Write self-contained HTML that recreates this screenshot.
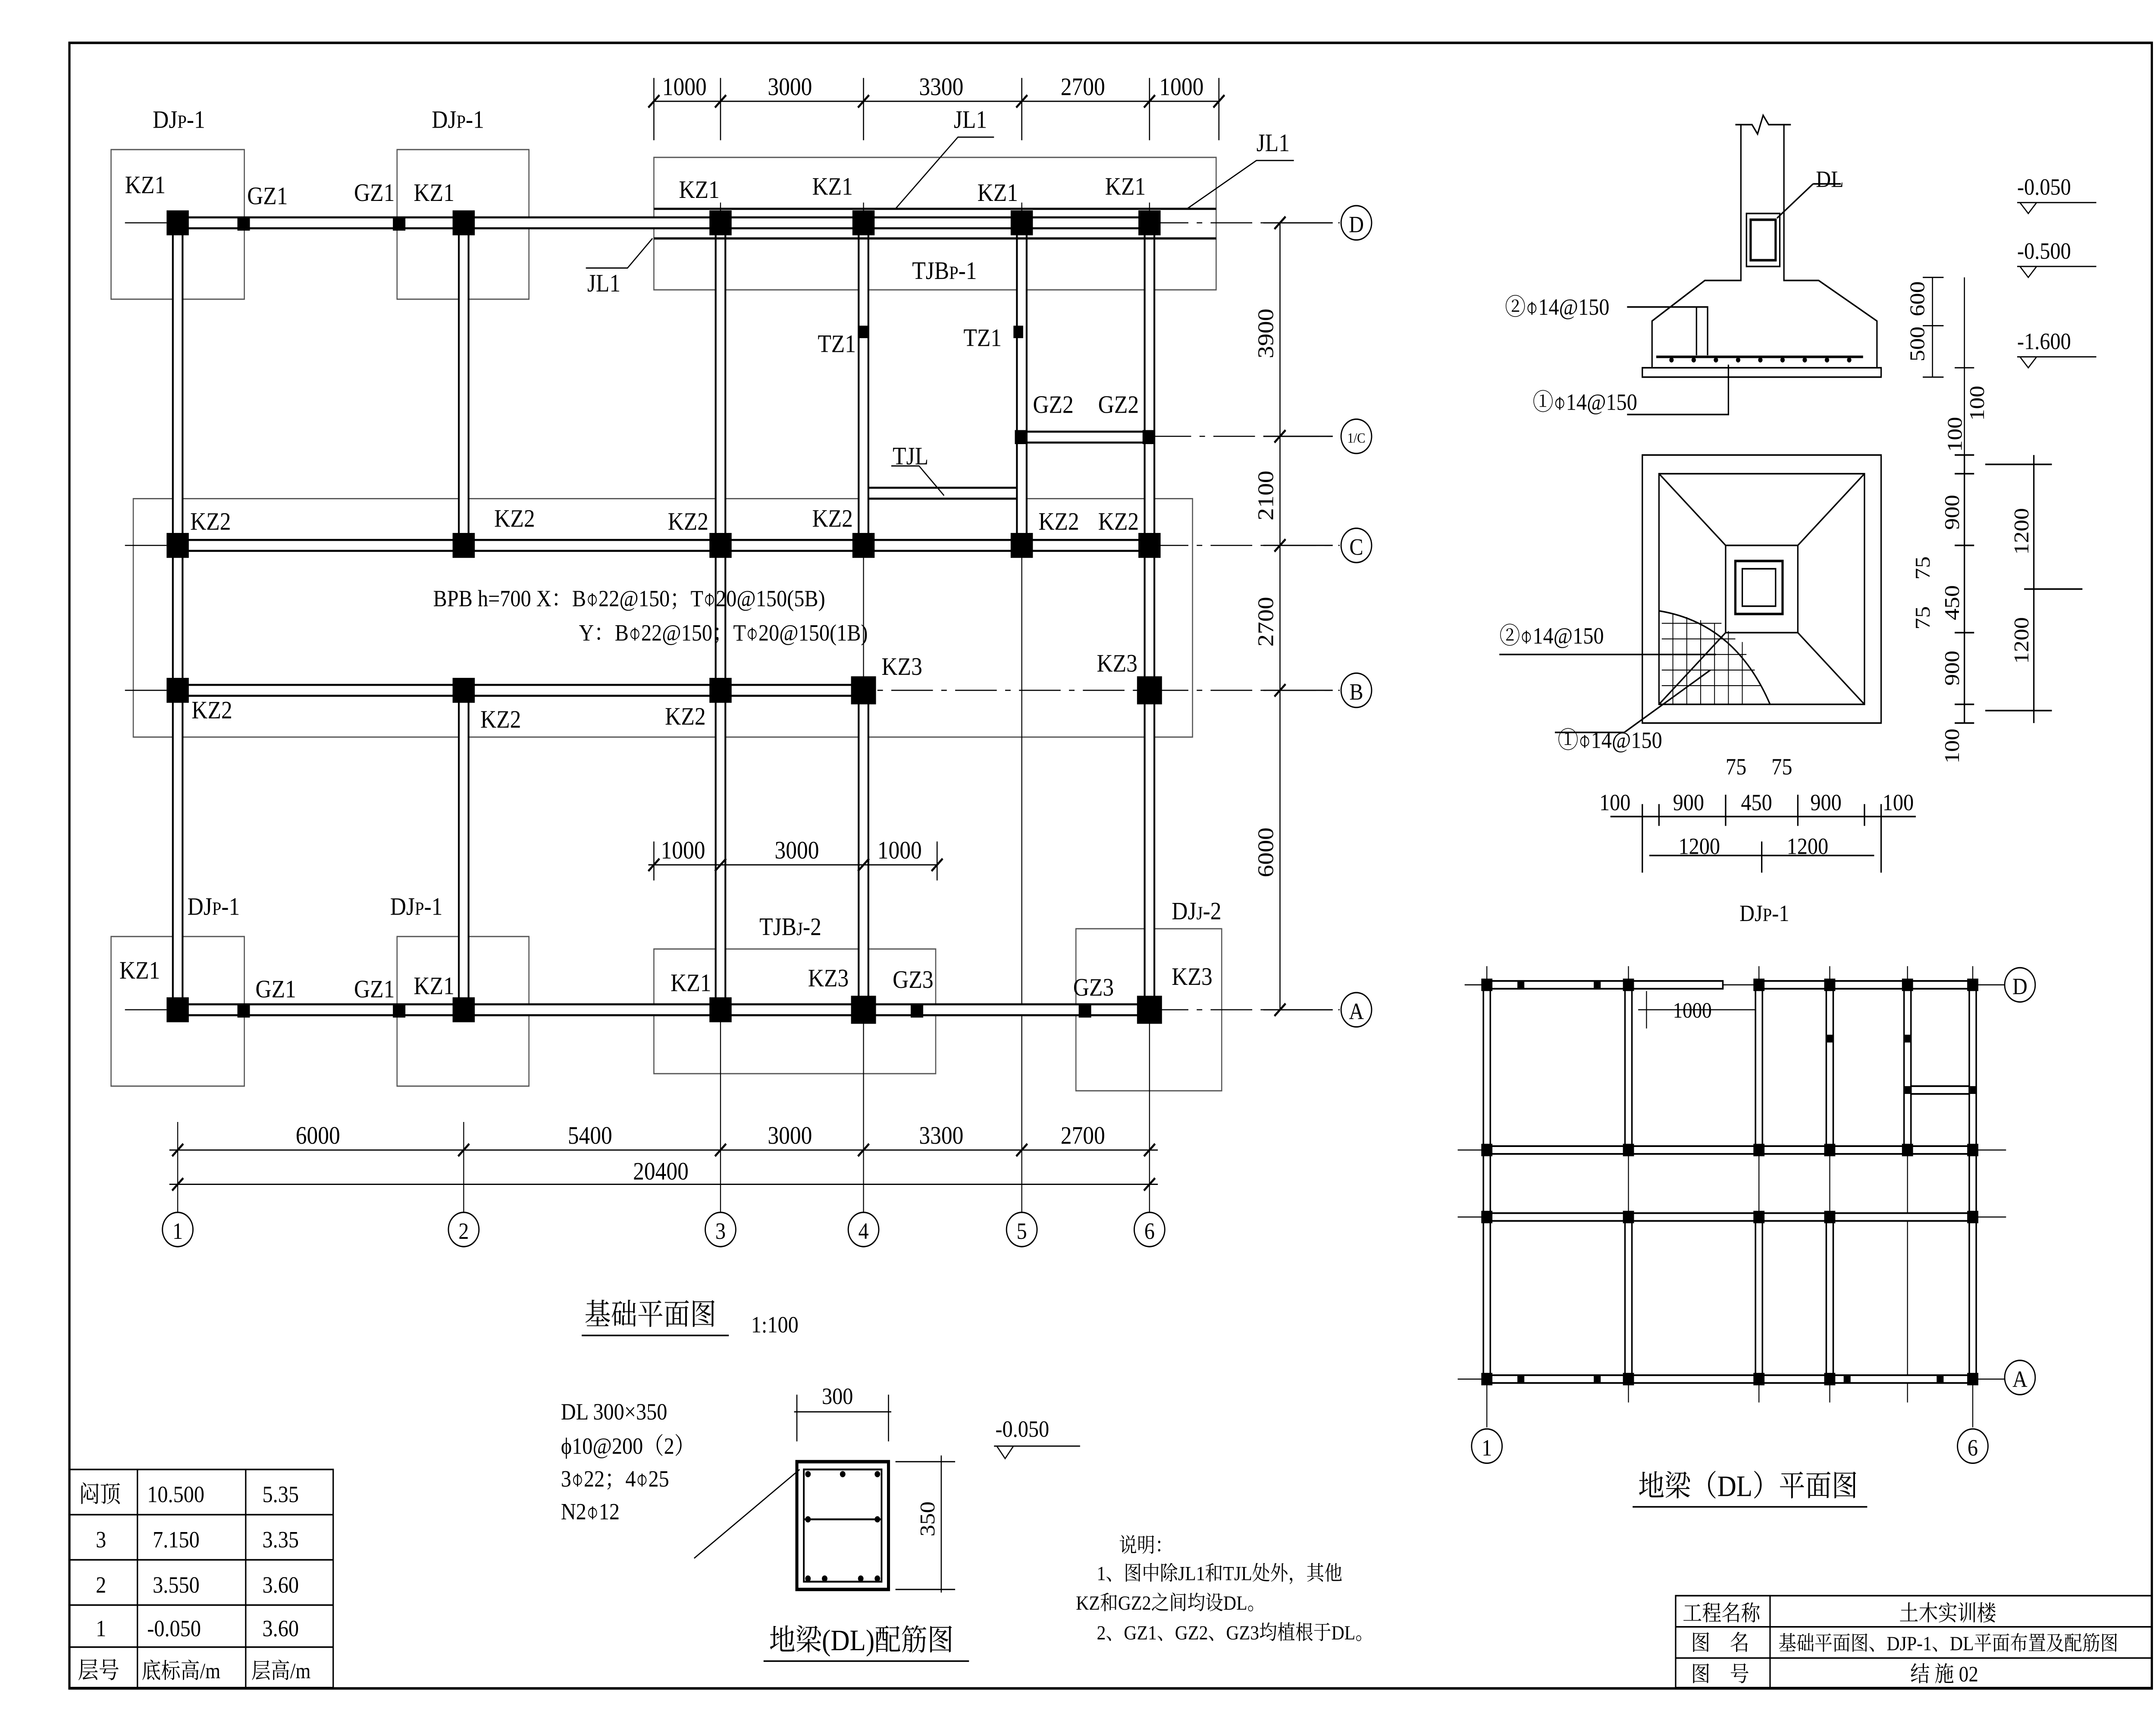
<!DOCTYPE html>
<html><head><meta charset="utf-8">
<style>
html,body{margin:0;padding:0;background:#fff;width:100%;height:100%;overflow:hidden;}
svg{display:block;width:100vw;height:100vh;}
text{font-family:"Liberation Serif","Noto Serif CJK SC","Noto Sans CJK SC",serif;fill:#000;}
</style></head>
<body>
<svg xmlns="http://www.w3.org/2000/svg" viewBox="0 0 1553 1098" preserveAspectRatio="none">
<rect x="0" y="0" width="1553" height="1098" fill="#fff"/>
<rect x="50" y="27.5" width="1500" height="1056" fill="none" stroke="#000" stroke-width="1.6"/>

<g fill="none" stroke="#555" stroke-width="0.8">
<rect x="80" y="96" width="96" height="96"/>
<rect x="286" y="96" width="95" height="96"/>
<rect x="471" y="101" width="405" height="85"/>
<rect x="96" y="320" width="763" height="153"/>
<rect x="80" y="601" width="96" height="96"/>
<rect x="286" y="601" width="95" height="96"/>
<rect x="471" y="609" width="203" height="80"/>
<rect x="775" y="596" width="105" height="104"/>
</g>

<g stroke="#000" stroke-width="0.7" stroke-dasharray="30,6,4,6">
<line x1="90" y1="143" x2="965" y2="143"/>
<line x1="90" y1="350" x2="965" y2="350"/>
<line x1="90" y1="443" x2="965" y2="443"/>
<line x1="90" y1="648" x2="965" y2="648"/>
<line x1="736" y1="280" x2="965" y2="280"/>
</g>
<g stroke="#000" stroke-width="0.7">
<line x1="128" y1="720" x2="128" y2="778"/>
<line x1="334" y1="720" x2="334" y2="778"/>
<line x1="519" y1="130" x2="519" y2="778"/>
<line x1="622" y1="130" x2="622" y2="778"/>
<line x1="736" y1="130" x2="736" y2="778"/>
<line x1="828" y1="130" x2="828" y2="778"/>
</g>

<g fill="#fff" stroke="#000" stroke-width="1.3">
<rect x="128" y="139.5" width="700" height="7"/>
<rect x="128" y="346.5" width="700" height="7"/>
<rect x="128" y="439.5" width="494" height="7"/>
<rect x="128" y="644.5" width="700" height="7"/>
<rect x="736" y="277" width="92" height="7"/>
<rect x="622" y="313" width="114" height="7"/>
<rect x="124.5" y="143" width="7" height="505"/>
<rect x="330.5" y="143" width="7" height="207"/>
<rect x="330.5" y="443" width="7" height="205"/>
<rect x="515.5" y="143" width="7" height="505"/>
<rect x="618.5" y="143" width="7" height="207"/>
<rect x="618.5" y="443" width="7" height="205"/>
<rect x="732.5" y="143" width="7" height="207"/>
<rect x="824.5" y="143" width="7" height="505"/>
</g>
<g stroke="#000" stroke-width="1.4">
<line x1="471" y1="134" x2="876" y2="134"/>
<line x1="471" y1="153" x2="876" y2="153"/>
</g>

<g fill="#000">
<rect x="120" y="135" width="16" height="16"/><rect x="326" y="135" width="16" height="16"/><rect x="511" y="135" width="16" height="16"/><rect x="614" y="135" width="16" height="16"/><rect x="728" y="135" width="16" height="16"/><rect x="820" y="135" width="16" height="16"/>
<rect x="120" y="342" width="16" height="16"/><rect x="326" y="342" width="16" height="16"/><rect x="511" y="342" width="16" height="16"/><rect x="614" y="342" width="16" height="16"/><rect x="728" y="342" width="16" height="16"/><rect x="820" y="342" width="16" height="16"/>
<rect x="120" y="435" width="16" height="16"/><rect x="326" y="435" width="16" height="16"/><rect x="511" y="435" width="16" height="16"/><rect x="613" y="434" width="18" height="18"/><rect x="819" y="434" width="18" height="18"/>
<rect x="120" y="640" width="16" height="16"/><rect x="326" y="640" width="16" height="16"/><rect x="511" y="640" width="16" height="16"/><rect x="613" y="639" width="18" height="18"/><rect x="819" y="639" width="18" height="18"/>
<rect x="731" y="276" width="9" height="9"/><rect x="823" y="276" width="9" height="9"/>
<rect x="171" y="139" width="9" height="9"/><rect x="283" y="139" width="9" height="9"/>
<rect x="171" y="644" width="9" height="9"/><rect x="283" y="644" width="9" height="9"/>
<rect x="656" y="644" width="9" height="9"/><rect x="777" y="644" width="9" height="9"/>
<rect x="619" y="209" width="7" height="8"/><rect x="730" y="209" width="7" height="8"/>
</g>

<g font-size="16">
<text x="110" y="82">DJ<tspan font-size="12">P</tspan>-1</text>
<text x="311" y="82">DJ<tspan font-size="12">P</tspan>-1</text>
<text x="90" y="124">KZ1</text><text x="178" y="131">GZ1</text><text x="255" y="129">GZ1</text><text x="298" y="129">KZ1</text>
<text x="489" y="127">KZ1</text><text x="585" y="125">KZ1</text><text x="704" y="129">KZ1</text><text x="796" y="125">KZ1</text>
<text x="687" y="82">JL1</text><text x="905" y="97">JL1</text><text x="423" y="187">JL1</text>
<text x="657" y="179">TJB<tspan font-size="12">P</tspan>-1</text>
<text x="589" y="226">TZ1</text><text x="694" y="222">TZ1</text>
<text x="744" y="265">GZ2</text><text x="791" y="265">GZ2</text>
<text x="643" y="298">TJL</text>
<text x="137" y="340">KZ2</text><text x="356" y="338">KZ2</text><text x="481" y="340">KZ2</text><text x="585" y="338">KZ2</text><text x="748" y="340">KZ2</text><text x="791" y="340">KZ2</text>
<text x="312" y="389" font-size="15">BPB h=700  X：B⌽22@150；T⌽20@150(5B)</text>
<text x="417" y="411" font-size="15">Y：B⌽22@150；T⌽20@150(1B)</text>
<text x="138" y="461">KZ2</text><text x="346" y="467">KZ2</text><text x="479" y="465">KZ2</text><text x="635" y="433">KZ3</text><text x="790" y="431">KZ3</text>
<text x="135" y="587">DJ<tspan font-size="12">P</tspan>-1</text><text x="281" y="587">DJ<tspan font-size="12">P</tspan>-1</text>
<text x="547" y="600">TJB<tspan font-size="12">J</tspan>-2</text><text x="844" y="590">DJ<tspan font-size="12">J</tspan>-2</text>
<text x="86" y="628">KZ1</text><text x="184" y="640">GZ1</text><text x="255" y="640">GZ1</text><text x="298" y="638">KZ1</text>
<text x="483" y="636">KZ1</text><text x="582" y="633">KZ3</text><text x="643" y="634">GZ3</text><text x="773" y="639">GZ3</text><text x="844" y="632">KZ3</text>
</g>
<g stroke="#000" stroke-width="0.8" fill="none">
<polyline points="645,134 690,88 716,88"/>
<polyline points="855,134 905,103 932,103"/>
<polyline points="470,153 452,172 422,172"/>
<polyline points="680,318 662,299 642,299"/>
</g>

<g stroke="#000" stroke-width="0.8">
<line x1="471" y1="65" x2="878" y2="65"/>
<line x1="471" y1="50" x2="471" y2="90"/><line x1="519" y1="50" x2="519" y2="90"/><line x1="622" y1="50" x2="622" y2="90"/><line x1="736" y1="50" x2="736" y2="90"/><line x1="828" y1="50" x2="828" y2="90"/><line x1="878" y1="50" x2="878" y2="90"/>
<line x1="922" y1="143" x2="922" y2="648"/>
<line x1="910" y1="143" x2="960" y2="143"/><line x1="910" y1="280" x2="960" y2="280"/><line x1="910" y1="350" x2="960" y2="350"/><line x1="910" y1="443" x2="960" y2="443"/><line x1="910" y1="648" x2="960" y2="648"/>
<line x1="122" y1="738" x2="834" y2="738"/>
<line x1="122" y1="760" x2="834" y2="760"/>
<line x1="467" y1="555" x2="675" y2="555"/>
<line x1="471" y1="540" x2="471" y2="565"/><line x1="675" y1="540" x2="675" y2="565"/>
</g>
<g stroke="#000" stroke-width="1.4">
<line x1="467" y1="69" x2="475" y2="61"/><line x1="515" y1="69" x2="523" y2="61"/><line x1="618" y1="69" x2="626" y2="61"/><line x1="732" y1="69" x2="740" y2="61"/><line x1="824" y1="69" x2="832" y2="61"/><line x1="874" y1="69" x2="882" y2="61"/>
<line x1="918" y1="147" x2="926" y2="139"/><line x1="918" y1="284" x2="926" y2="276"/><line x1="918" y1="354" x2="926" y2="346"/><line x1="918" y1="447" x2="926" y2="439"/><line x1="918" y1="652" x2="926" y2="644"/>
<line x1="124" y1="742" x2="132" y2="734"/><line x1="330" y1="742" x2="338" y2="734"/><line x1="515" y1="742" x2="523" y2="734"/><line x1="618" y1="742" x2="626" y2="734"/><line x1="732" y1="742" x2="740" y2="734"/><line x1="824" y1="742" x2="832" y2="734"/>
<line x1="124" y1="764" x2="132" y2="756"/><line x1="824" y1="764" x2="832" y2="756"/>
<line x1="467" y1="559" x2="475" y2="551"/><line x1="515" y1="559" x2="523" y2="551"/><line x1="618" y1="559" x2="626" y2="551"/><line x1="671" y1="559" x2="679" y2="551"/>
</g>
<g font-size="16">
<text x="477" y="61">1000</text><text x="553" y="61">3000</text><text x="662" y="61">3300</text><text x="764" y="61">2700</text><text x="835" y="61">1000</text>
<text x="213" y="734">6000</text><text x="409" y="734">5400</text><text x="553" y="734">3000</text><text x="662" y="734">3300</text><text x="764" y="734">2700</text>
<text x="456" y="757">20400</text>
<text x="476" y="551">1000</text><text x="558" y="551">3000</text><text x="632" y="551">1000</text>
<text transform="translate(917,230) rotate(-90)">3900</text>
<text transform="translate(917,334) rotate(-90)">2100</text>
<text transform="translate(917,415) rotate(-90)">2700</text>
<text transform="translate(917,563) rotate(-90)">6000</text>
</g>
<g fill="#fff" stroke="#000" stroke-width="0.9">
<circle cx="128" cy="789" r="11"/><circle cx="334" cy="789" r="11"/><circle cx="519" cy="789" r="11"/><circle cx="622" cy="789" r="11"/><circle cx="736" cy="789" r="11"/><circle cx="828" cy="789" r="11"/>
<circle cx="977" cy="143" r="11"/><circle cx="977" cy="280" r="11"/><circle cx="977" cy="350" r="11"/><circle cx="977" cy="443" r="11"/><circle cx="977" cy="648" r="11"/>
</g>
<g font-size="15" text-anchor="middle">
<text x="128" y="795">1</text><text x="334" y="795">2</text><text x="519" y="795">3</text><text x="622" y="795">4</text><text x="736" y="795">5</text><text x="828" y="795">6</text>
<text x="977" y="149">D</text><text x="977" y="284" font-size="9">1/C</text><text x="977" y="356">C</text><text x="977" y="449">B</text><text x="977" y="654">A</text>
</g>

<text x="421" y="850" font-size="19">基础平面图</text>
<line x1="419" y1="857" x2="525" y2="857" stroke="#000" stroke-width="1"/>
<text x="541" y="855" font-size="15">1:100</text>

<g font-size="15">
<text x="404" y="911">DL 300×350</text>
<text x="404" y="933">ϕ10@200（2）</text>
<text x="404" y="954">3⌽22；4⌽25</text>
<text x="404" y="975">N2⌽12</text>
<text x="592" y="901">300</text>
<text transform="translate(673,986) rotate(-90)">350</text>
<text x="717" y="922">-0.050</text>
</g>
<g stroke="#000" fill="none" stroke-width="0.8">
<line x1="572" y1="906" x2="642" y2="906"/><line x1="574" y1="895" x2="574" y2="925"/><line x1="640" y1="895" x2="640" y2="925"/>
<line x1="678" y1="934" x2="678" y2="1022"/><line x1="645" y1="938" x2="688" y2="938"/><line x1="645" y1="1020" x2="688" y2="1020"/>
<polyline points="716,928 778,928"/><polyline points="718,928 724,936 730,928"/>
<line x1="500" y1="1000" x2="576" y2="943"/>
</g>
<rect x="574" y="938" width="66" height="82" fill="none" stroke="#000" stroke-width="2.2"/>
<rect x="579" y="943" width="56" height="72" fill="none" stroke="#000" stroke-width="1.2"/>
<line x1="579" y1="975" x2="635" y2="975" stroke="#000" stroke-width="1.2"/>
<g fill="#000"><circle cx="582" cy="946" r="2"/><circle cx="607" cy="946" r="2"/><circle cx="632" cy="946" r="2"/><circle cx="582" cy="975" r="2"/><circle cx="632" cy="975" r="2"/><circle cx="582" cy="1013" r="2"/><circle cx="594" cy="1013" r="2"/><circle cx="620" cy="1013" r="2"/><circle cx="632" cy="1013" r="2"/></g>
<text x="554" y="1059" font-size="19">地梁(DL)配筋图</text>
<line x1="550" y1="1066" x2="698" y2="1066" stroke="#000" stroke-width="1"/>

<g font-size="13">
<text x="806" y="996">说明：</text>
<text x="790" y="1014">1、图中除JL1和TJL处外，其他</text>
<text x="775" y="1033">KZ和GZ2之间均设DL。</text>
<text x="790" y="1052">2、GZ1、GZ2、GZ3均植根于DL。</text>
</g>

<g stroke="#000" stroke-width="1" fill="none">
<rect x="50" y="943" width="190" height="140"/>
<line x1="50" y1="972" x2="240" y2="972"/><line x1="50" y1="1001" x2="240" y2="1001"/><line x1="50" y1="1030" x2="240" y2="1030"/><line x1="50" y1="1057" x2="240" y2="1057"/>
<line x1="99" y1="943" x2="99" y2="1083"/><line x1="177" y1="943" x2="177" y2="1083"/>
</g>
<g font-size="15">
<text x="57" y="964">闷顶</text><text x="106" y="964">10.500</text><text x="189" y="964">5.35</text>
<text x="69" y="993">3</text><text x="110" y="993">7.150</text><text x="189" y="993">3.35</text>
<text x="69" y="1022">2</text><text x="110" y="1022">3.550</text><text x="189" y="1022">3.60</text>
<text x="69" y="1050">1</text><text x="106" y="1050">-0.050</text><text x="189" y="1050">3.60</text>
<text x="56" y="1077">层号</text><text x="102" y="1077" font-size="14">底标高/m</text><text x="181" y="1077" font-size="14">层高/m</text>
</g>

<g stroke="#000" stroke-width="1" fill="none">
<rect x="1207" y="1024" width="343" height="59"/>
<line x1="1207" y1="1044" x2="1550" y2="1044"/><line x1="1207" y1="1064" x2="1550" y2="1064"/>
<line x1="1275" y1="1024" x2="1275" y2="1083"/>
</g>
<g font-size="14">
<text x="1212" y="1040">工程名称</text><text x="1368" y="1040">土木实训楼</text>
<text x="1218" y="1059">图　名</text><text x="1281" y="1059" font-size="13">基础平面图、DJP-1、DL平面布置及配筋图</text>
<text x="1218" y="1079">图　号</text><text x="1376" y="1079">结 施 02</text>
</g>

<g stroke="#000" stroke-width="1" fill="none">
<polyline points="1254,80 1254,180 1228,180 1190,206 1190,236"/>
<polyline points="1285,80 1285,180 1310,180 1352,206 1352,236"/>
<polyline points="1250,80 1262,80 1266,86 1270,74 1274,80 1290,80"/>
<rect x="1258" y="137" width="24" height="34"/>
<rect x="1261" y="141" width="18" height="26" stroke-width="1.6"/>
<rect x="1183" y="236" width="172" height="6"/>
<line x1="1193" y1="229" x2="1342" y2="229" stroke-width="1.6"/>
<line x1="1280" y1="140" x2="1306" y2="118"/><line x1="1306" y1="118" x2="1326" y2="118"/>
<polyline points="1172,197 1230,197 1230,228"/><line x1="1222" y1="197" x2="1222" y2="228"/>
<polyline points="1245,234 1245,266 1172,266"/>
</g>
<g fill="#000"><circle cx="1204" cy="231" r="1.6"/><circle cx="1220" cy="231" r="1.6"/><circle cx="1236" cy="231" r="1.6"/><circle cx="1252" cy="231" r="1.6"/><circle cx="1268" cy="231" r="1.6"/><circle cx="1284" cy="231" r="1.6"/><circle cx="1300" cy="231" r="1.6"/><circle cx="1316" cy="231" r="1.6"/><circle cx="1332" cy="231" r="1.6"/></g>
<g font-size="15">
<text x="1308" y="120">DL</text>
<text x="1084" y="202">②⌽14@150</text>
<text x="1104" y="263">①⌽14@150</text>
<text x="1453" y="125">-0.050</text><text x="1453" y="166">-0.500</text><text x="1453" y="224">-1.600</text>
<text transform="translate(1386,232) rotate(-90)">500</text><text transform="translate(1386,203) rotate(-90)">600</text>
<text transform="translate(1429,270) rotate(-90)">100</text>
<text transform="translate(1413,290) rotate(-90)">100</text>
</g>
<g stroke="#000" stroke-width="0.8" fill="none">
<line x1="1453" y1="130" x2="1510" y2="130"/><polyline points="1455,130 1461,137 1467,130"/>
<line x1="1453" y1="171" x2="1510" y2="171"/><polyline points="1455,171 1461,178 1467,171"/>
<line x1="1453" y1="229" x2="1510" y2="229"/><polyline points="1455,229 1461,236 1467,229"/>
<line x1="1392" y1="178" x2="1392" y2="242"/><line x1="1385" y1="178" x2="1400" y2="178"/><line x1="1385" y1="209" x2="1400" y2="209"/><line x1="1385" y1="242" x2="1400" y2="242"/>
<line x1="1415" y1="178" x2="1415" y2="298"/><line x1="1408" y1="236" x2="1422" y2="236"/>
</g>

<g stroke="#000" stroke-width="1" fill="none">
<rect x="1183" y="292" width="172" height="172"/>
<rect x="1195" y="304" width="148" height="148"/>
<polygon points="1243,350 1295,350 1295,406 1243,406"/>
<rect x="1250" y="360" width="34" height="34" stroke-width="1.6"/>
<rect x="1255" y="365" width="24" height="24"/>
<line x1="1195" y1="304" x2="1243" y2="350"/><line x1="1343" y1="304" x2="1295" y2="350"/>
<line x1="1195" y1="452" x2="1243" y2="406"/><line x1="1343" y1="452" x2="1295" y2="406"/>
<path d="M1195,392 Q1250,400 1275,452"/>
<line x1="1080" y1="420" x2="1236" y2="420"/>
<polyline points="1120,470 1170,470 1232,430"/>
<line x1="1415" y1="292" x2="1415" y2="464"/>
<line x1="1408" y1="292" x2="1422" y2="292"/><line x1="1408" y1="304" x2="1422" y2="304"/><line x1="1408" y1="350" x2="1422" y2="350"/><line x1="1408" y1="406" x2="1422" y2="406"/><line x1="1408" y1="452" x2="1422" y2="452"/><line x1="1408" y1="464" x2="1422" y2="464"/>
<line x1="1465" y1="292" x2="1465" y2="464"/><line x1="1458" y1="378" x2="1500" y2="378"/><line x1="1430" y1="298" x2="1478" y2="298"/><line x1="1430" y1="456" x2="1478" y2="456"/>
<line x1="1160" y1="524" x2="1380" y2="524"/><line x1="1188" y1="549" x2="1350" y2="549"/>
<line x1="1183" y1="516" x2="1183" y2="560"/><line x1="1195" y1="516" x2="1195" y2="530"/><line x1="1243" y1="510" x2="1243" y2="530"/><line x1="1295" y1="510" x2="1295" y2="530"/><line x1="1343" y1="516" x2="1343" y2="530"/><line x1="1355" y1="516" x2="1355" y2="560"/><line x1="1269" y1="540" x2="1269" y2="560"/>
</g>
<g stroke="#000" stroke-width="0.6">
<line x1="1197" y1="400" x2="1240" y2="400"/><line x1="1197" y1="410" x2="1250" y2="410"/><line x1="1197" y1="420" x2="1258" y2="420"/><line x1="1197" y1="430" x2="1264" y2="430"/><line x1="1197" y1="440" x2="1268" y2="440"/>
<line x1="1205" y1="394" x2="1205" y2="452"/><line x1="1215" y1="396" x2="1215" y2="452"/><line x1="1225" y1="398" x2="1225" y2="452"/><line x1="1235" y1="400" x2="1235" y2="452"/><line x1="1245" y1="405" x2="1245" y2="452"/><line x1="1255" y1="412" x2="1255" y2="452"/>
</g>
<g font-size="15">
<text x="1080" y="413">②⌽14@150</text>
<text x="1122" y="480">①⌽14@150</text>
<text transform="translate(1411,340) rotate(-90)">900</text>
<text transform="translate(1411,398) rotate(-90)">450</text>
<text transform="translate(1411,440) rotate(-90)">900</text>
<text transform="translate(1411,490) rotate(-90)">100</text>
<text transform="translate(1390,372) rotate(-90)">75</text><text transform="translate(1390,404) rotate(-90)">75</text>
<text transform="translate(1461,356) rotate(-90)">1200</text>
<text transform="translate(1461,426) rotate(-90)">1200</text>
<text x="1152" y="520">100</text><text x="1205" y="520">900</text><text x="1254" y="520">450</text><text x="1304" y="520">900</text><text x="1356" y="520">100</text>
<text x="1243" y="497">75</text><text x="1276" y="497">75</text>
<text x="1209" y="548">1200</text><text x="1287" y="548">1200</text>
<text x="1253" y="591">DJ<tspan font-size="12">P</tspan>-1</text>
</g>

<g stroke="#000" stroke-width="0.7">
<line x1="1055" y1="632" x2="1445" y2="632"/><line x1="1050" y1="738" x2="1445" y2="738"/><line x1="1050" y1="781" x2="1445" y2="781"/><line x1="1050" y1="885" x2="1445" y2="885"/>
<line x1="1071" y1="620" x2="1071" y2="916"/><line x1="1421" y1="620" x2="1421" y2="916"/>
<line x1="1173" y1="620" x2="1173" y2="900"/><line x1="1267" y1="620" x2="1267" y2="900"/><line x1="1318" y1="620" x2="1318" y2="900"/><line x1="1374" y1="620" x2="1374" y2="900"/>
<line x1="1186" y1="636" x2="1186" y2="660"/><line x1="1180" y1="648" x2="1267" y2="648"/>
</g>
<g fill="#fff" stroke="#000" stroke-width="1.1">
<rect x="1071" y="629.5" width="170" height="5"/>
<rect x="1267" y="629.5" width="154" height="5"/>
<rect x="1071" y="735.5" width="350" height="5"/>
<rect x="1071" y="778.5" width="350" height="5"/>
<rect x="1071" y="882.5" width="350" height="5"/>
<rect x="1374" y="697" width="47" height="5"/>
<rect x="1068.5" y="632" width="5" height="253"/>
<rect x="1170.5" y="632" width="5" height="106"/><rect x="1170.5" y="781" width="5" height="104"/>
<rect x="1264.5" y="632" width="5" height="106"/><rect x="1264.5" y="781" width="5" height="104"/>
<rect x="1315.5" y="632" width="5" height="106"/><rect x="1315.5" y="781" width="5" height="104"/>
<rect x="1371.5" y="632" width="5" height="106"/>
<rect x="1418.5" y="632" width="5" height="253"/>
</g>
<g fill="#000">
<rect x="1067" y="628" width="8" height="8"/><rect x="1169" y="628" width="8" height="8"/><rect x="1263" y="628" width="8" height="8"/><rect x="1314" y="628" width="8" height="8"/><rect x="1370" y="628" width="8" height="8"/><rect x="1417" y="628" width="8" height="8"/>
<rect x="1067" y="734" width="8" height="8"/><rect x="1169" y="734" width="8" height="8"/><rect x="1263" y="734" width="8" height="8"/><rect x="1314" y="734" width="8" height="8"/><rect x="1370" y="734" width="8" height="8"/><rect x="1417" y="734" width="8" height="8"/>
<rect x="1067" y="777" width="8" height="8"/><rect x="1169" y="777" width="8" height="8"/><rect x="1263" y="777" width="8" height="8"/><rect x="1314" y="777" width="8" height="8"/><rect x="1417" y="777" width="8" height="8"/>
<rect x="1067" y="881" width="8" height="8"/><rect x="1169" y="881" width="8" height="8"/><rect x="1263" y="881" width="8" height="8"/><rect x="1314" y="881" width="8" height="8"/><rect x="1417" y="881" width="8" height="8"/>
<rect x="1093" y="630" width="5" height="5"/><rect x="1148" y="630" width="5" height="5"/><rect x="1093" y="883" width="5" height="5"/><rect x="1148" y="883" width="5" height="5"/><rect x="1328" y="883" width="5" height="5"/><rect x="1395" y="883" width="5" height="5"/>
<rect x="1316" y="664" width="5" height="5"/><rect x="1372" y="664" width="5" height="5"/>
<rect x="1372" y="697" width="5" height="5"/><rect x="1419" y="697" width="5" height="5"/>
</g>
<g fill="#fff" stroke="#000" stroke-width="0.9">
<circle cx="1071" cy="928" r="11"/><circle cx="1421" cy="928" r="11"/>
<circle cx="1455" cy="632" r="11"/><circle cx="1455" cy="884" r="11"/>
</g>
<g font-size="15" text-anchor="middle">
<text x="1071" y="934">1</text><text x="1421" y="934">6</text><text x="1455" y="638">D</text><text x="1455" y="890">A</text>
</g>
<text x="1205" y="653" font-size="14">1000</text>
<text x="1180" y="960" font-size="19">地梁（DL）平面图</text>
<line x1="1176" y1="967" x2="1345" y2="967" stroke="#000" stroke-width="1"/>
</svg>
</body></html>
